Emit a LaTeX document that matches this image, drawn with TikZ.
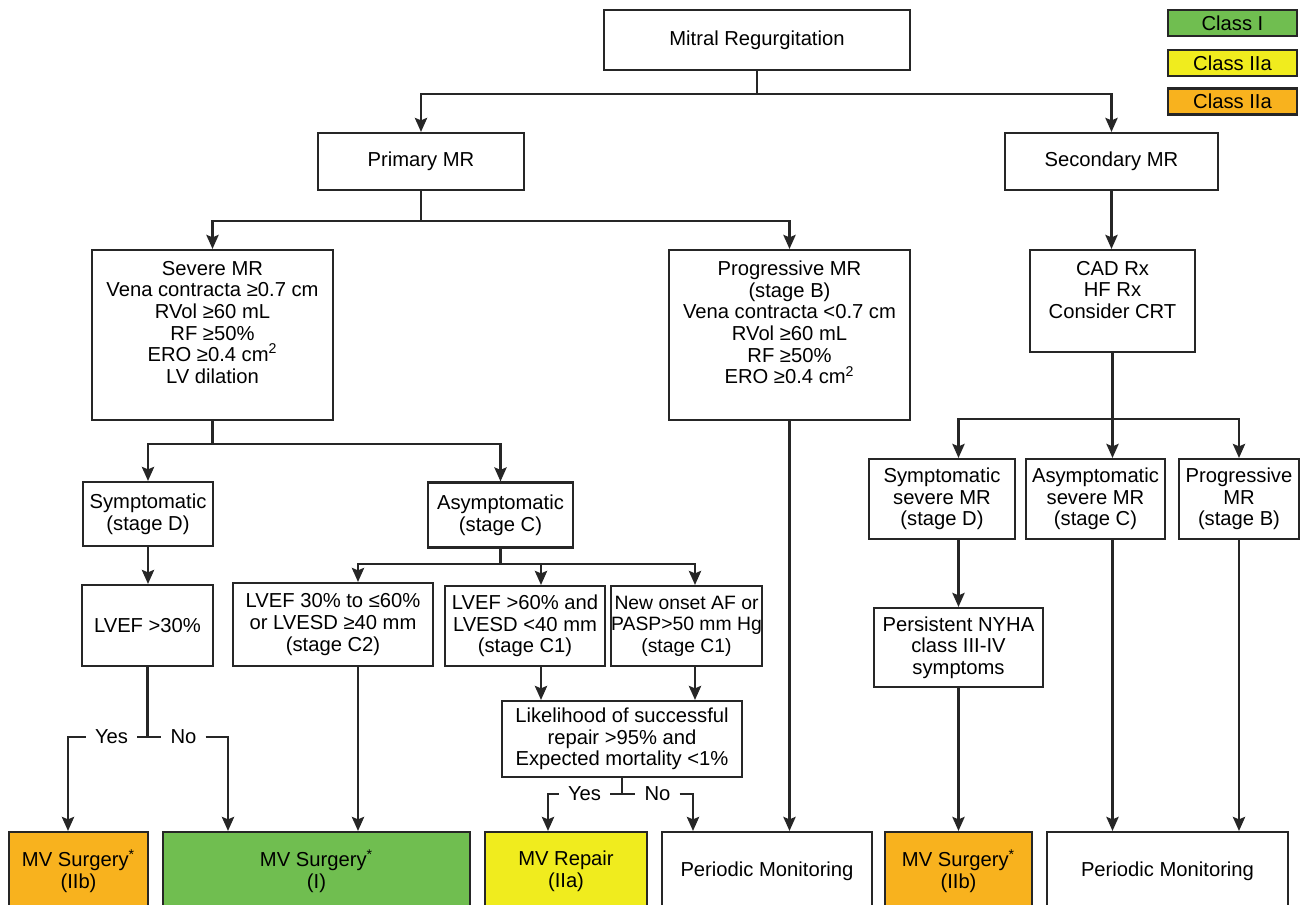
\documentclass[tikz,border=0pt]{standalone}
\usepackage{fontspec}
\setmainfont{Liberation Sans}
\usetikzlibrary{arrows.meta,calc}

\definecolor{clsone}{RGB}{112,190,80}
\definecolor{clstwoa}{RGB}{240,236,30}
\definecolor{clstwob}{RGB}{248,178,30}

\begin{document}
\begin{tikzpicture}[
    box/.style={draw=black!85, line width=1.2pt, align=center, inner sep=1pt, font=\fontsize{11.5}{12.3}\selectfont},
    txt/.style={anchor=north, align=center, inner sep=1pt, yshift=-0.2cm, font=\fontsize{11.5}{12.3}\selectfont},
    leg/.style={box, minimum width=2.58cm, minimum height=0.52cm},
    bot/.style={box, minimum height=1.56cm},
    yn/.style={inner xsep=5pt, inner ysep=0pt, font=\fontsize{11.5}{12.3}\selectfont},
    arr/.style={-{Stealth[length=8pt, width=7pt, inset=1.4pt]}, line width=1.2pt, draw=black!85},
    ln/.style={line width=1.2pt, draw=black!85}
]
\useasboundingbox (0,0) rectangle (26.08,-18.10);
\fill[white] (0,0) rectangle (26.08,-18.10);
\clip (0,0) rectangle (26.08,-18.10);

% legend
\node[leg, fill=clsone] (l1) at (24.65,-0.46) {Class I};
\node[leg, fill=clstwoa] (l2) at (24.65,-1.26) {Class IIa};
\node[leg, fill=clstwob] (l3) at (24.65,-2.03) {Class IIa};

% top levels
\node[box, minimum width=6.12cm, minimum height=1.20cm] (mr) at (15.14,-0.80) {Mitral Regurgitation};
\node[box, minimum width=4.12cm, minimum height=1.14cm] (prim) at (8.42,-3.23) {Primary MR};
\node[box, minimum width=4.26cm, minimum height=1.14cm] (sec) at (22.23,-3.23) {Secondary MR};
\node[box, minimum width=4.82cm, minimum height=3.40cm, label={[txt]north:{Severe MR\\Vena contracta ≥0.7 cm\\RVol ≥60 mL\\RF ≥50\%\\ERO ≥0.4 cm\textsuperscript{2}\\LV dilation}}] (sev) at (4.25,-6.70) {};
\node[box, minimum width=4.82cm, minimum height=3.40cm, label={[txt]north:{Progressive MR\\(stage B)\\Vena contracta <0.7 cm\\RVol ≥60 mL\\RF ≥50\%\\ERO ≥0.4 cm\textsuperscript{2}}}] (prog) at (15.79,-6.70) {};
\node[box, minimum width=3.30cm, minimum height=2.04cm, label={[txt]north:{CAD Rx\\HF Rx\\Consider CRT}}] (cad) at (22.25,-6.02) {};

% primary branch
\node[box, minimum width=2.60cm, minimum height=1.28cm] (symd) at (2.96,-10.28) {Symptomatic\\(stage D)};
\node[box, minimum width=2.90cm, minimum height=1.30cm] (asyc) at (10.01,-10.30) {Asymptomatic\\(stage C)};
\node[box, minimum width=2.62cm, minimum height=1.62cm] (lv30) at (2.95,-12.51) {LVEF >30\%};
\node[box, minimum width=4.00cm, minimum height=1.66cm] (c2) at (6.66,-12.49) {LVEF 30\% to ≤60\%\\or LVESD ≥40 mm\\(stage C2)};
\node[box, minimum width=3.20cm, minimum height=1.60cm] (c1a) at (10.50,-12.52) {LVEF >60\% and\\LVESD <40 mm\\(stage C1)};
\node[box, minimum width=2.94cm, minimum height=1.60cm, inner xsep=0pt, font=\fontsize{11}{12.3}\selectfont] (c1b) at (13.73,-12.52) {New onset AF or\\PASP>50 mm Hg\\(stage C1)};
\node[box, minimum width=4.80cm, minimum height=1.52cm] (lik) at (12.44,-14.78) {Likelihood of successful\\repair >95\% and\\Expected mortality <1\%};

% secondary branch
\node[box, minimum width=2.92cm, minimum height=1.60cm] (ssd) at (18.84,-9.98) {Symptomatic\\severe MR\\(stage D)};
\node[box, minimum width=2.78cm, minimum height=1.60cm] (asd) at (21.91,-9.98) {Asymptomatic\\severe MR\\(stage C)};
\node[box, minimum width=2.40cm, minimum height=1.60cm] (prb) at (24.78,-9.98) {Progressive\\MR\\(stage B)};
\node[box, minimum width=3.38cm, minimum height=1.58cm] (pers) at (19.17,-12.95) {Persistent NYHA\\class III-IV\\symptoms};

% outcomes
\node[bot, fill=clstwob, minimum width=2.78cm] (mvsl) at (1.57,-17.42) {MV Surgery\textsuperscript{*}\\(IIb)};
\node[bot, fill=clsone, minimum width=6.14cm] (mvsi) at (6.33,-17.42) {MV Surgery\textsuperscript{*}\\(I)};
\node[bot, fill=clstwoa, minimum width=3.24cm] (mvr) at (11.32,-17.42) {MV Repair\\(IIa)};
\node[bot, minimum width=4.20cm] (pm1) at (15.34,-17.42) {Periodic Monitoring};
\node[bot, fill=clstwob, minimum width=2.94cm] (mvsr) at (19.17,-17.42) {MV Surgery\textsuperscript{*}\\(IIb)};
\node[bot, minimum width=4.82cm] (pm2) at (23.35,-17.42) {Periodic Monitoring};

% yes / no
\node[yn] (y1) at (2.23,-14.74) {Yes};
\node[yn] (n1) at (3.67,-14.74) {No};
\coordinate (t1) at (lv30.south |- y1);
\node[yn] (y2) at (11.69,-15.88) {Yes};
\node[yn] (n2) at (13.15,-15.88) {No};
\coordinate (t2) at (lik.south |- y2);

% columns
\coordinate (k2) at ([xshift=0.5cm]c2.south);
\coordinate (k1) at ([xshift=0.32cm]c1a.south);
\coordinate (k3) at ([xshift=0.17cm]c1b.south);

\draw[arr] (mr.south) -- ++(0,-0.46) -| (prim.north);
\draw[arr] (mr.south) -- ++(0,-0.46) -| (sec.north);
\draw[arr] (prim.south) -- ++(0,-0.60) -| (sev.north);
\draw[arr] (prim.south) -- ++(0,-0.60) -| (prog.north);
\draw[arr] (sec.south) -- (sec.south |- cad.north);
\draw[arr] (sev.south) -- ++(0,-0.46) -| (symd.north);
\draw[arr] (sev.south) -- ++(0,-0.46) -| (asyc.north);
\draw[arr] (prog.south) -- (prog.south |- pm1.north);

\draw[arr] (cad.south) -- ++(0,-1.32) -| (pers |- ssd.north);
\draw[arr] (cad.south) -- (cad |- asd.north);
\draw[arr] (cad.south) -- ++(0,-1.32) -| (prb.north);
\draw[arr] (ssd.south -| pers) -- (pers.north);
\draw[arr] (pers.south) -- (mvsr.north);
\draw[arr] (asd.south -| cad) -- (cad |- pm2.north);
\draw[arr] (prb.south) -- (prb |- pm2.north);

\draw[arr] (symd.south) -- (symd.south |- lv30.north);
\draw[arr] (asyc.south) -- ++(0,-0.31) -| (k2 |- c2.north);
\draw[arr] (asyc.south) -- ++(0,-0.31) -| (k1 |- c1a.north);
\draw[arr] (asyc.south) -- ++(0,-0.31) -| (k3 |- c1b.north);
\draw[arr] (k1) -- (k1 |- lik.north);
\draw[arr] (k3) -- (k3 |- lik.north);
\draw[arr] (k2) -- (k2 |- mvsi.north);

\draw[ln] (lv30.south) -- (t1);
\draw[ln] (y1.east) -- (n1.west);
\draw[arr] (y1.west) -| ([xshift=-0.21cm]mvsl.north);
\draw[arr] (n1.east) -| ([xshift=-1.77cm]mvsi.north);
\draw[ln] (lik.south) -- (t2);
\draw[ln] (y2.east) -- (n2.west);
\draw[arr] (y2.west) -| ([xshift=-0.36cm]mvr.north);
\draw[arr] (n2.east) -| ([xshift=-1.48cm]pm1.north);
\end{tikzpicture}
\end{document}
